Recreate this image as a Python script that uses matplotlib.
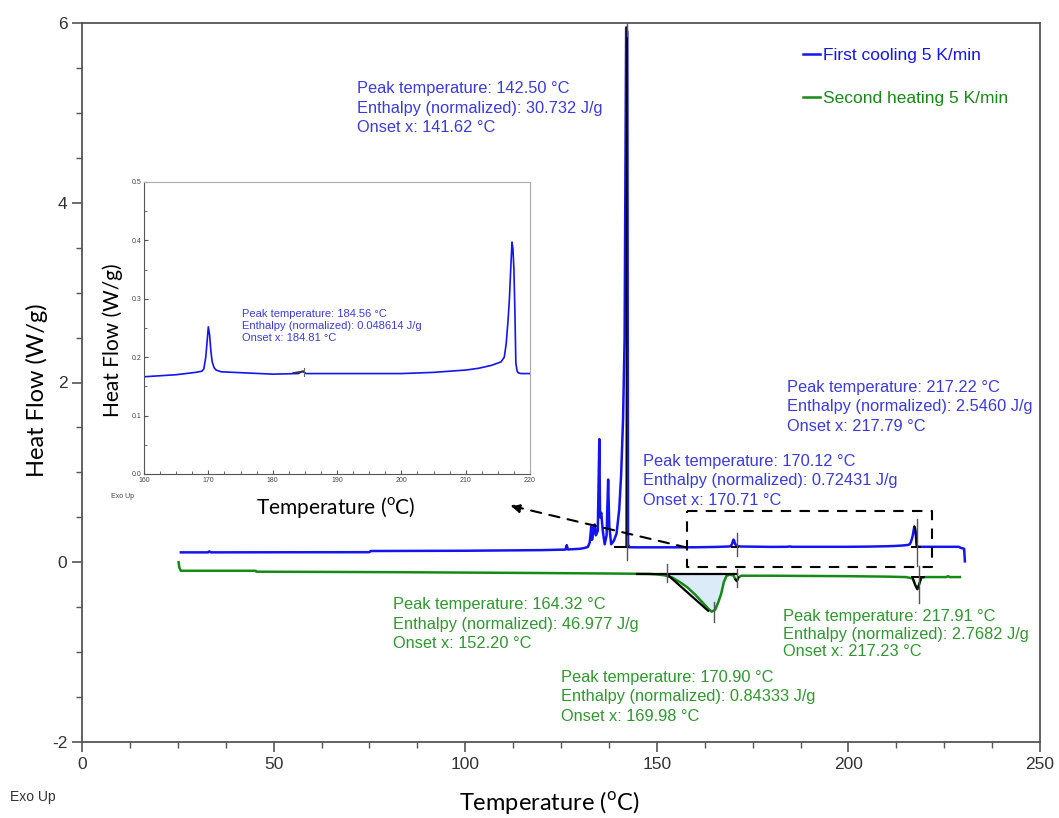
import matplotlib
matplotlib.use("Agg")
import matplotlib.pyplot as plt
from matplotlib.ticker import MultipleLocator
import numpy as np

plt.rcParams['font.family'] = ['Liberation Sans', 'DejaVu Sans']
plt.rcParams['mathtext.fontset'] = 'custom'
plt.rcParams['mathtext.rm'] = 'Lato'
plt.rcParams['axes.unicode_minus'] = False

# ---------------- data ----------------
cool_T = [25.8, 30.0, 32.9, 33.2, 33.5, 33.8, 50.0, 75.0, 75.3, 100.0, 120.0, 125.0, 126.2, 126.5,
          126.8, 128.0, 130.0, 131.0, 132.0, 132.5, 132.9, 133.1, 133.5, 133.8, 134.1, 134.6,
          135.0, 135.2, 135.5, 135.9, 136.4, 136.9, 137.3, 137.6, 138.1, 138.8, 139.5, 140.2,
          140.7, 141.2, 141.6, 142.0, 142.3, 142.5, 142.8, 145.0, 150.0, 160.0, 165.0, 168.0,
          169.0, 169.3, 169.6, 169.85, 170.0, 170.2, 170.4, 170.6, 170.9, 171.2, 172.0, 176.0,
          180.0, 184.0, 184.6, 185.2, 190.0, 200.0, 205.0, 210.0, 212.0, 214.0, 215.5, 216.0,
          216.3, 216.6, 216.8, 217.0, 217.2, 217.35, 217.5, 217.65, 217.8, 218.0, 218.2, 218.6,
          220.0, 225.0, 228.8, 229.3, 230.2, 230.4]
cool_HF = [0.110, 0.110, 0.110, 0.122, 0.112, 0.110, 0.111, 0.112, 0.125, 0.128, 0.135, 0.140, 0.141,
           0.190, 0.142, 0.145, 0.150, 0.158, 0.170, 0.220, 0.400, 0.250, 0.350, 0.420, 0.300,
           0.350, 1.370, 0.500, 0.550, 0.350, 0.200, 0.300, 0.920, 0.400, 0.200, 0.240, 0.320,
           0.590, 0.980, 1.600, 2.500, 5.950, 5.900, 0.200, 0.167, 0.166, 0.166, 0.1665, 0.170,
           0.174, 0.176, 0.180, 0.200, 0.232, 0.252, 0.238, 0.210, 0.192, 0.182, 0.178, 0.175,
           0.173, 0.171, 0.172, 0.176, 0.172, 0.172, 0.172, 0.174, 0.178, 0.181, 0.186, 0.192,
           0.200, 0.223, 0.265, 0.300, 0.350, 0.397, 0.385, 0.350, 0.280, 0.190, 0.176, 0.173,
           0.172, 0.172, 0.172, 0.172, 0.160, 0.150, 0.010]

heat_T = [25.2, 25.4, 25.8, 30.0, 45.3, 45.5, 80.0, 100.0, 120.0, 140.0, 148.0, 150.0, 152.0,
          154.0, 156.0, 158.0, 160.0, 162.0, 163.5, 164.3, 165.2, 166.0, 166.8, 167.5, 168.2,
          169.0, 170.0, 170.5, 170.9, 171.3, 172.0, 180.0, 200.0, 210.0, 215.0, 216.8, 217.5,
          218.0, 218.5, 219.0, 220.0, 225.5, 226.0, 226.5, 229.1]
heat_HF = [0.000, -0.060, -0.095, -0.095, -0.095, -0.105, -0.110, -0.115, -0.120, -0.126, -0.130,
           -0.135, -0.145, -0.170, -0.220, -0.280, -0.360, -0.450, -0.520, -0.550, -0.530, -0.450,
           -0.350, -0.220, -0.150, -0.140, -0.145, -0.190, -0.210, -0.170, -0.150, -0.150, -0.155,
           -0.160, -0.165, -0.180, -0.260, -0.300, -0.240, -0.175, -0.165, -0.165, -0.155, -0.165,
           -0.165]

# peak evaluation marks (x, y_low, y_high)
cool_marks = [(142.3, 0.03, 0.29), (142.3, 5.85, 6.05), (170.9, 0.07, 0.33), (217.9, -0.04, 0.48)]
heat_marks = [(152.7, -0.02, -0.22), (164.8, -0.44, -0.66), (170.9, -0.08, -0.28), (218.3, -0.04, -0.45)]
heat_base_T = [144.9, 170.9]
heat_base_HF = -0.135
heat_tangent_T = [152.7, 163.4]
heat_tangent_HF = [-0.135, -0.54]

# (text, left px, middle-line px, linespacing)
cool_labels = [
    ("Peak temperature: 142.50 °C\nEnthalpy (normalized): 30.732 J/g\nOnset x: 141.62 °C", 357, 108, 1.4),
    ("Peak temperature: 170.12 °C\nEnthalpy (normalized): 0.72431 J/g\nOnset x: 170.71 °C", 643, 481, 1.4),
    ("Peak temperature: 217.22 °C\nEnthalpy (normalized): 2.5460 J/g\nOnset x: 217.79 °C", 787, 407, 1.4),
]
heat_labels = [
    ("Peak temperature: 164.32 °C\nEnthalpy (normalized): 46.977 J/g\nOnset x: 152.20 °C", 393, 624, 1.4),
    ("Peak temperature: 217.91 °C\nEnthalpy (normalized): 2.7682 J/g\nOnset x: 217.23 °C", 783, 634, 1.22),
    ("Peak temperature: 170.90 °C\nEnthalpy (normalized): 0.84333 J/g\nOnset x: 169.98 °C", 561, 697, 1.35),
]
inset_label = "Peak temperature: 184.56 °C\nEnthalpy (normalized): 0.048614 J/g\nOnset x: 184.81 °C"

legend_labels = ["First cooling 5 K/min", "Second heating 5 K/min"]

BLUE = '#1414f0'
BLUE_T = '#3a3ae0'
GREEN = '#168a16'
GREEN_T = '#2f972f'

W, H = 1059, 818
fig = plt.figure(figsize=(W / 100, H / 100), dpi=100)

def fx(px):
    return px / W

def fy(py):
    return 1 - py / H

AX_L, AX_R, AX_T, AX_B = 82, 1040, 23, 742
ax = fig.add_axes([fx(AX_L), fy(AX_B), (AX_R - AX_L) / W, (AX_B - AX_T) / H])
ax.set_xlim(0, 250)
ax.set_ylim(-2, 6)

l1, = ax.plot(cool_T, cool_HF, color=BLUE, lw=1.8, zorder=3)
l2, = ax.plot(heat_T, heat_HF, color=GREEN, lw=1.8, zorder=3)

# fill of endotherm
hT = np.array(heat_T)
hH = np.array(heat_HF)
m = (hT >= 150.0) & (hT <= 168.2)
ax.fill_between(hT[m], hH[m], heat_base_HF, color='#dcebf8', zorder=2)

# black evaluation overlays
cT = np.array(cool_T)
cH = np.array(cool_HF)
ax.plot([139.2, 142.4], [0.167, 0.167], color='black', lw=1.5, zorder=4)
ax.plot([142.0, 142.2], [0.167, 5.95], color='black', lw=1.1, zorder=4)
ax.plot([169.6, 171.2], [0.168, 0.168], color='black', lw=1.4, zorder=4)
ax.plot([216.5, 218.8], [0.172, 0.172], color='black', lw=1.4, zorder=4)
mm = (cT >= 217.2) & (cT <= 218.0)
ax.plot(cT[mm], cH[mm], color='black', lw=1.3, zorder=4)
ax.plot(heat_base_T, [heat_base_HF] * 2, color='black', lw=1.6, zorder=4)
ax.plot(heat_tangent_T, heat_tangent_HF, color='black', lw=1.6, zorder=4)
ax.plot([216.5, 219.7], [-0.165, -0.165], color='black', lw=1.4, zorder=4)
mh = (hT >= 216.8) & (hT <= 219.0)
ax.plot(hT[mh], hH[mh], color='black', lw=1.4, zorder=4)
mh2 = (hT >= 170.4) & (hT <= 171.4)
ax.plot(hT[mh2], hH[mh2], color='black', lw=1.4, zorder=4)
for x, y0, y1 in cool_marks + heat_marks:
    ax.plot([x, x], [y0, y1], color='#555555', lw=1.0, zorder=5)

# dashed zoom box and arrow
ax.plot([157.9, 221.8, 221.8, 157.9, 157.9], [0.57, 0.57, -0.052, -0.052, 0.57],
        color='black', lw=1.5, ls=(0, (5, 4)), zorder=6)
ax.annotate('', xy=(111.8, 0.63), xytext=(157.9, 0.163),
            arrowprops=dict(arrowstyle='-|>', color='black', lw=1.5, ls=(0, (5, 4)),
                            mutation_scale=14, shrinkA=0, shrinkB=0), zorder=6)

# axes styling
for s in ax.spines.values():
    s.set_color('#555555')
    s.set_linewidth(1.3)
ax.xaxis.set_major_locator(MultipleLocator(50))
ax.xaxis.set_minor_locator(MultipleLocator(12.5))
ax.yaxis.set_major_locator(MultipleLocator(2))
ax.yaxis.set_minor_locator(MultipleLocator(0.5))
ax.tick_params(which='both', direction='out', color='#555555', labelcolor='#333333')
ax.tick_params(which='major', length=7, width=1.2, labelsize=12.5)
ax.tick_params(which='minor', length=4, width=1.0)

# legend
ax.legend([l1, l2], legend_labels, loc='upper left',
          bbox_to_anchor=((803 - AX_L) / (AX_R - AX_L), 1 - (48 - AX_T) / (AX_B - AX_T)),
          frameon=False, handlelength=1.0, handletextpad=0.18, labelspacing=1.6,
          fontsize=12.5, labelcolor='linecolor', borderaxespad=0, borderpad=0)

# annotations
for txt, px, py, ls in cool_labels:
    fig.text(fx(px), fy(py), txt, color=BLUE_T, fontsize=11.8, ha='left', va='center',
             linespacing=ls)
for txt, px, py, ls in heat_labels:
    fig.text(fx(px), fy(py), txt, color=GREEN_T, fontsize=11.8, ha='left', va='center',
             linespacing=ls)

# axis labels
fig.text(fx(549), fy(803), r'Temperature ($^{\mathrm{o}}$C)', fontsize=17, family='Lato',
         ha='center', va='center', color='black')
fig.text(fx(37), fy(390), 'Heat Flow (W/g)', fontsize=17, family='Lato', rotation=90,
         ha='center', va='center', color='black')
fig.text(fx(10), fy(797), 'Exo Up', fontsize=10, ha='left', va='center', color='#333333')

# ---------------- inset ----------------
ins = fig.add_axes([fx(144), fy(474), (530 - 144) / W, (474 - 182) / H])
ins.set_xlim(160, 220)
ins.set_ylim(0, 0.5)
ins.plot(cool_T, cool_HF, color=BLUE, lw=1.2)
ins.plot([183.2, 184.9], [0.173, 0.176], color='#333333', lw=1.2)
ins.plot([184.8, 184.8], [0.167, 0.181], color='#666666', lw=0.8)
ins.xaxis.set_major_locator(MultipleLocator(10))
ins.xaxis.set_minor_locator(MultipleLocator(2.5))
ins.yaxis.set_major_locator(MultipleLocator(0.1))
ins.yaxis.set_minor_locator(MultipleLocator(0.05))
ins.tick_params(which='both', direction='in', color='#555555', labelcolor='#444444',
                labelsize=5, pad=2)
ins.tick_params(which='major', length=3, width=0.8)
ins.tick_params(which='minor', length=2, width=0.6)
ins.spines['left'].set_color('#555555')
ins.spines['bottom'].set_color('#555555')
ins.spines['top'].set_color('#aaaaaa')
ins.spines['right'].set_color('#aaaaaa')
ins.set_yticks([0.0, 0.1, 0.2, 0.3, 0.4, 0.5])
ins.set_yticklabels(['0.0', '0.1', '0.2', '0.3', '0.4', '0.5'])
fig.text(fx(241.7), fy(326), inset_label, color=BLUE_T, fontsize=8, ha='left', va='center',
         linespacing=1.25)
fig.text(fx(336), fy(507), r'Temperature ($^{\mathrm{o}}$C)', fontsize=15, family='Lato',
         ha='center', va='center', color='black')
fig.text(fx(113), fy(340), 'Heat Flow (W/g)', fontsize=15, family='Lato', rotation=90,
         ha='center', va='center', color='black')
fig.text(fx(111), fy(496), 'Exo Up', fontsize=5, ha='left', va='center', color='#444444')

fig.savefig('out.png', dpi=100)
